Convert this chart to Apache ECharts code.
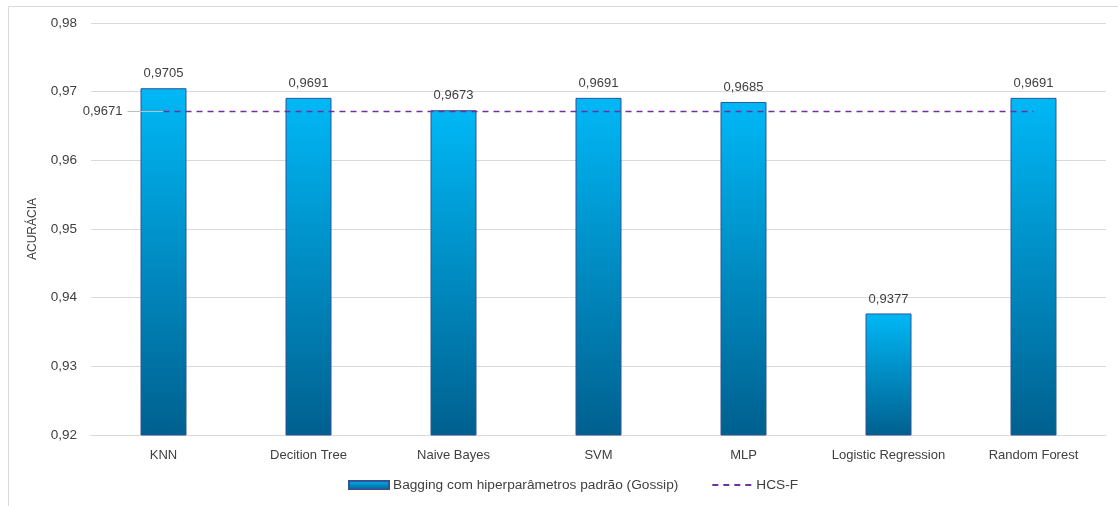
<!DOCTYPE html>
<html>
<head>
<meta charset="utf-8">
<script src="https://cdn.jsdelivr.net/npm/echarts@6/dist/echarts.min.js"></script>
<style>html,body{margin:0;padding:0;background:#fff}#c{width:1118px;height:506px}</style>
</head>
<body>
<div id="c"></div>
<script>
const categories = ['KNN', 'Decition Tree', 'Naive Bayes', 'SVM', 'MLP', 'Logistic Regression', 'Random Forest'];
const baggingValues = [0.9705, 0.9691, 0.9673, 0.9691, 0.9685, 0.9377, 0.9691];
const hcsfValues = [0.9671, 0.9671, 0.9671, 0.9671, 0.9671, 0.9671, 0.9671];
const yTicks = { min: 0.92, max: 0.98, interval: 0.01 };
const seriesNames = ['Bagging com hiperparâmetros padrão (Gossip)', 'HCS-F'];

const FONT = '"Liberation Sans", Arial, sans-serif';
const TXT = '#404040';
const fmt = v => v.toFixed(4).replace('.', ',');
const barGrad = new echarts.graphic.LinearGradient(0, 0, 0, 1, [
  { offset: 0, color: '#00B8F6' },
  { offset: 1, color: '#00608F' }
]);

const chart = echarts.init(document.getElementById('c'), null, { renderer: 'canvas' });
chart.setOption({
  animation: false,
  textStyle: { fontFamily: FONT },
  graphic: [{
    type: 'rect', shape: { x: 8.5, y: 6.5, width: 1300, height: 700 },
    style: { fill: 'none', stroke: '#d9d9d9', lineWidth: 1 }, silent: true, z: -1
  }],
  grid: { left: 91, right: 12, top: 23, bottom: 71 },
  legend: {
    bottom: 9, left: 343, itemGap: 33, itemWidth: 40, itemHeight: 8,
    textStyle: { color: TXT, fontSize: 13.7, fontFamily: FONT, padding: [0, 0, 0, -1] },
    data: [
      { name: seriesNames[0], icon: 'rect' },
      { name: seriesNames[1], itemStyle: { opacity: 0 } }
    ]
  },
  xAxis: {
    type: 'category', data: categories,
    axisLine: { show: true, lineStyle: { color: '#d9d9d9' } },
    axisTick: { show: false },
    axisLabel: { color: TXT, fontSize: 13, margin: 14, fontFamily: FONT, interval: 0 }
  },
  yAxis: {
    type: 'value', min: yTicks.min, max: yTicks.max, interval: yTicks.interval,
    name: 'ACURÁCIA', nameLocation: 'middle', nameGap: 52, nameRotate: 90,
    nameTextStyle: { color: TXT, fontSize: 12, fontFamily: FONT },
    axisLine: { show: false }, axisTick: { show: false },
    splitLine: { lineStyle: { color: '#d9d9d9' } },
    axisLabel: { color: TXT, fontSize: 13.5, margin: 14, fontFamily: FONT, formatter: v => v.toFixed(2).replace('.', ',') }
  },
  series: [
    {
      name: seriesNames[0], type: 'bar', data: baggingValues, barWidth: 46,
      itemStyle: { color: barGrad, borderColor: '#2F5597', borderWidth: 1 },
      label: { show: true, position: 'top', distance: 8, color: TXT, fontSize: 13, fontFamily: FONT, formatter: p => fmt(p.value) }
    },
    {
      name: seriesNames[1], type: 'line', symbol: 'none', z: 5,
      lineStyle: { color: '#7030A0', width: 1.5, type: [6, 5] },
      itemStyle: { color: '#7030A0' },
      data: hcsfValues,
      markPoint: {
        symbol: 'circle', symbolSize: 0, silent: true, animation: false,
        data: [{ coord: [0, hcsfValues[0]], value: hcsfValues[0] }],
        label: {
          show: true, position: 'left', distance: 0,
          formatter: '{t|' + fmt(hcsfValues[0]) + '}{l|}',
          rich: {
            t: { color: TXT, fontSize: 13, fontFamily: FONT, padding: [0, 5, 0, 0] },
            l: { width: 36, height: 1, backgroundColor: '#bfbfbf' }
          }
        }
      }
    }
  ]
});
</script>
</body>
</html>
